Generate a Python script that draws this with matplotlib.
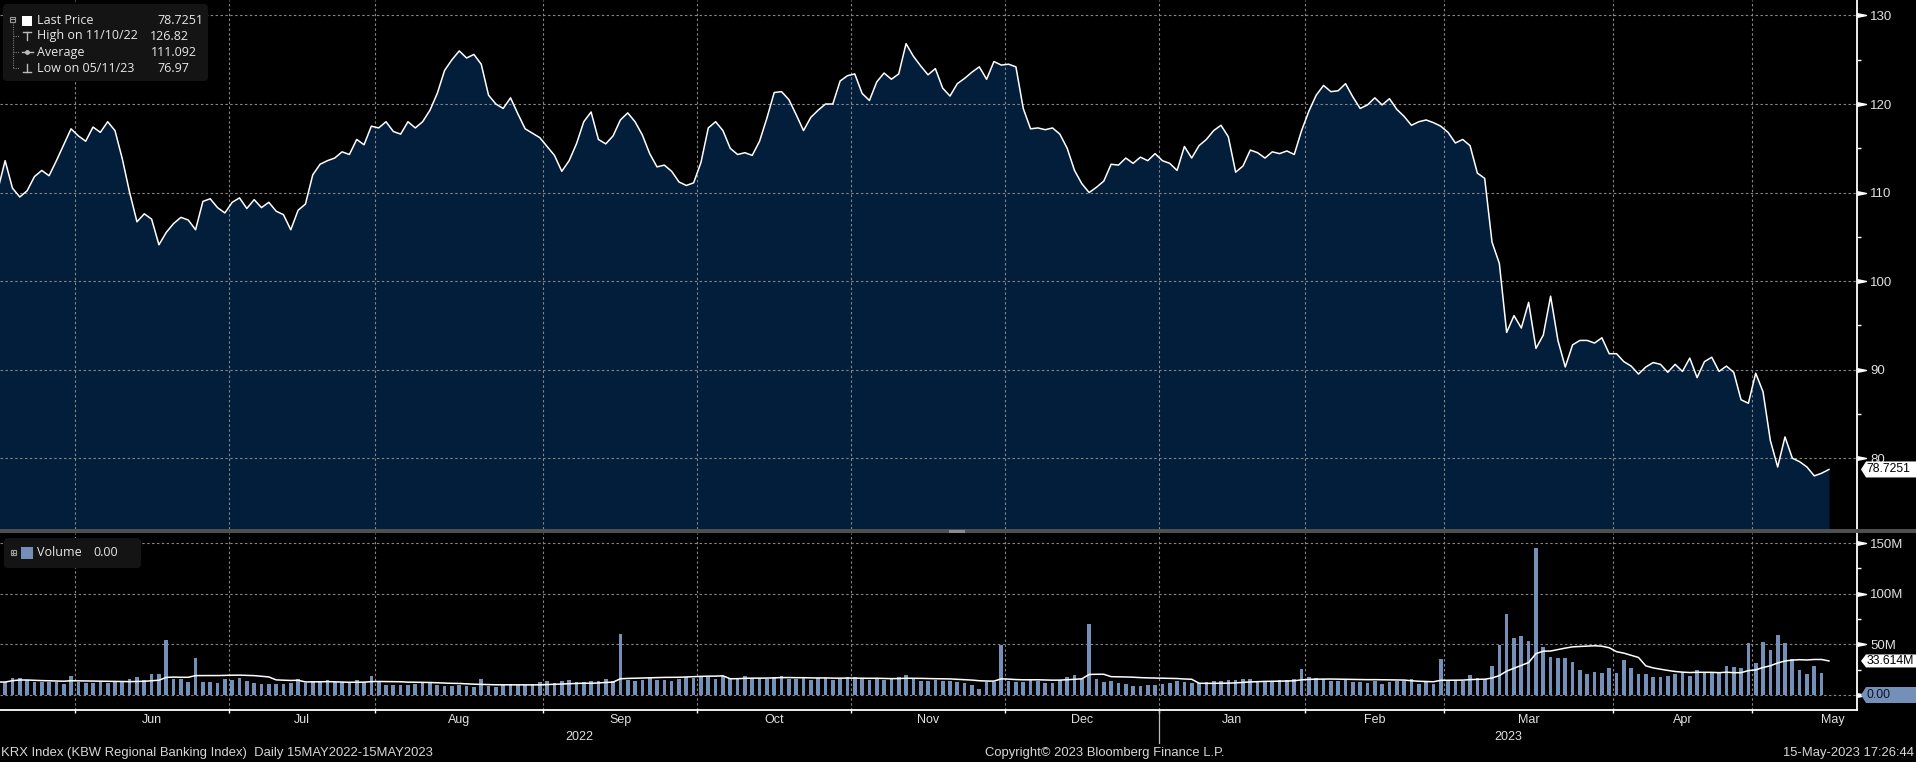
import numpy as np
import pandas as pd
import matplotlib
matplotlib.use('Agg')
import matplotlib.pyplot as plt
from matplotlib.patches import Rectangle, FancyBboxPatch, Polygon
from matplotlib.transforms import blended_transform_factory as blend

W, H = 1916, 762

# trading calendar (NYSE holidays in the window)
holidays = ['2022-05-30', '2022-06-20', '2022-07-04', '2022-09-05', '2022-11-24',
            '2022-12-26', '2023-01-02', '2023-01-16', '2023-02-20', '2023-04-07',
            '2023-05-29']
dates = pd.bdate_range('2022-05-16', '2023-05-15')
dates = dates[~dates.isin(pd.to_datetime(holidays))]

# KRX last price, one value per trading day
price = [
    # May 22
    110.3, 113.6, 110.5, 109.5, 110.2, 111.8, 112.5, 111.9, 113.6, 115.4, 117.2,
    # Jun
    116.4, 115.8, 117.4, 116.8, 118.0, 117.0, 113.8, 110.0, 106.7, 107.6, 107.0,
    104.1, 105.5, 106.5, 107.2, 106.9, 105.8, 109.0, 109.3, 108.3, 107.7,
    # Jul
    108.9, 109.4, 108.2, 109.2, 108.3, 108.9, 107.9, 107.5, 105.8, 108.0,
    108.7, 112.0, 113.2, 113.6, 113.9, 114.6, 114.3, 116.0, 115.4, 117.5,
    # Aug
    117.3, 118.0, 116.9, 116.6, 118.0, 117.3, 118.0, 119.3, 121.2, 123.8, 125.0,
    126.0, 125.2, 125.6, 124.5, 121.0, 120.0, 119.5, 120.7, 118.9, 117.2, 116.7, 116.2,
    # Sep
    115.2, 114.2, 112.4, 113.6, 115.5, 118.0, 119.1, 116.0, 115.5, 116.4, 118.2,
    119.0, 118.0, 116.5, 114.4, 112.9, 113.1, 112.4, 111.2, 110.8, 111.1,
    # Oct
    113.4, 117.3, 118.0, 117.0, 115.0, 114.3, 114.5, 114.2, 115.8, 118.4, 121.3,
    121.4, 120.5, 118.8, 117.0, 118.5, 119.3, 120.0, 120.0, 122.6, 123.2,
    # Nov
    123.4, 121.2, 120.4, 122.5, 123.5, 122.8, 123.4, 126.82, 125.4, 124.3, 123.3,
    124.0, 121.8, 120.9, 122.3, 122.9, 123.6, 124.2, 122.8, 124.8, 124.4,
    # Dec
    124.5, 124.2, 119.5, 117.2, 117.3, 117.1, 117.3, 116.6, 115.0, 112.5, 111.0,
    110.0, 110.6, 111.3, 113.2, 113.1, 113.9, 113.3, 114.0, 113.6, 114.4,
    # Jan 23
    113.6, 113.3, 112.5, 115.2, 113.9, 115.3, 116.0, 117.0, 117.6, 116.3,
    112.3, 113.0, 114.8, 114.5, 113.9, 114.6, 114.4, 114.7, 114.3, 117.0,
    # Feb
    119.2, 121.0, 122.1, 121.4, 121.5, 122.3, 120.8, 119.5, 119.9, 120.7,
    119.9, 120.6, 119.4, 118.6, 117.6, 118.0, 118.2, 117.9, 117.5,
    # Mar
    116.8, 115.6, 116.0, 115.3, 112.2, 111.6, 104.4, 102.0, 94.2, 96.1, 94.7,
    97.6, 92.4, 93.9, 98.3, 93.3, 90.3, 92.8, 93.3, 93.3, 93.0, 93.6, 91.8,
    # Apr
    91.8, 90.9, 90.4, 89.5, 90.3, 90.8, 90.6, 89.7, 90.6, 89.8,
    91.3, 89.1, 90.9, 91.4, 89.8, 90.4, 89.7, 86.6, 86.2,
    # May 23
    89.6, 87.5, 82.0, 79.0, 82.4, 80.0, 79.6, 79.0, 78.0, 78.3, 78.7251,
]

# daily volume, millions
volume = [
    # May 22
    12.8, 12.8, 16.8, 16.8, 14.8, 12.8, 12.8, 12.8, 12.8, 10.9, 18.8,
    # Jun
    12.8, 11.8, 11.8, 12.8, 11.8, 12.8, 12.8, 15.8, 17.8, 14.8, 20.7,
    20.7, 54.3, 15.8, 15.8, 12.8, 36.5, 12.8, 12.8, 11.8, 15.8,
    # Jul
    14.8, 16.8, 13.8, 11.8, 10.9, 10.9, 10.9, 10.9, 11.8, 15.8,
    11.8, 13.8, 13.8, 14.8, 12.8, 12.8, 11.8, 14.8, 12.8, 18.8,
    # Aug
    12.8, 9.9, 9.9, 9.9, 9.9, 10.9, 11.8, 11.8, 9.9, 8.9, 8.9, 9.9,
    8.9, 7.9, 15.8, 8.9, 7.9, 9.5, 10.5, 9.8, 10.2, 11.0, 12.5,
    # Sep
    14.0, 11.5, 13.5, 14.5, 13.0, 12.5, 13.8, 14.2, 15.5, 14.0, 60.5,
    14.8, 13.5, 15.0, 16.5, 14.5, 15.0, 13.8, 16.0, 17.5, 16.8,
    # Oct
    18.0, 17.5, 16.2, 18.5, 17.0, 16.0, 18.8, 17.2, 16.5, 15.8, 17.8,
    18.5, 16.2, 15.5, 17.0, 14.8, 16.5, 17.0, 15.2, 16.0, 18.2,
    # Nov
    17.5, 16.0, 15.2, 16.8, 14.5, 15.8, 18.0, 19.5, 16.2, 14.0, 13.5,
    15.0, 14.2, 13.8, 12.5, 12.0, 10.0, 5.5, 12.5, 13.0, 49.5,
    # Dec
    14.0, 13.0, 12.5, 14.5, 13.5, 12.0, 11.5, 14.5, 18.0, 19.5, 16.0,
    70.0, 15.5, 13.0, 14.0, 12.0, 10.5, 9.0, 8.5, 9.5, 10.0,
    # Jan 23
    11.0, 12.0, 13.5, 12.5, 12.0, 11.5, 13.0, 14.0, 13.5, 15.0,
    14.5, 16.0, 15.5, 14.0, 13.5, 12.5, 15.0, 14.5, 16.0, 26.0,
    # Feb
    18.0, 16.5, 15.5, 14.0, 13.5, 14.5, 13.0, 12.5, 12.0, 14.0,
    10.9, 12.8, 14.1, 14.1, 15.5, 10.9, 13.5, 10.9, 35.5,
    # Mar
    14.8, 14.8, 14.1, 19.7, 16.4, 15.5, 28.6, 49.3, 80.0, 56.3, 58.2, 53.3,
    145.1, 47.4, 37.5, 36.5, 36.5, 32.6, 24.7, 20.7, 22.7, 21.7, 26.6,
    # Apr
    21.7, 34.5, 26.6, 20.7, 20.7, 17.8, 17.8, 18.8, 20.7, 22.7,
    18.8, 24.7, 21.7, 21.7, 21.7, 28.6, 27.6, 26.6, 51.3,
    # May 23
    31.6, 52.3, 44.4, 59.2, 51.3, 35.5, 24.5, 20.6, 29.1, 21.61, 0.0,
]

price_ticks = [80, 90, 100, 110, 120, 130]
vol_ticks = [0, 50, 100, 150]
vol_labels = ['', '50M', '100M', '150M']

legend_rows = [('Last Price', '78.7251'), ('High on 11/10/22', '126.82'),
               ('Average', '111.092'), ('Low on 05/11/23', '76.97')]

AXF = ['Liberation Sans', 'DejaVu Sans']
LGF = ['Open Sans', 'DejaVu Sans']
BLUE = '#7590b8'
NAVY = '#021e3b'
GRID = '#858585'
TXT = '#e0e0e0'

x = np.arange(len(price))
vol_ma = pd.Series(volume).rolling(15, min_periods=1).mean()

# month boundaries / label centres in trading-day units
mon = dates.to_period('M')
starts = np.flatnonzero(np.r_[True, mon[1:] != mon[:-1]])
bounds = starts[1:] - 0.5
centers, names = [], []
for s in starts[1:]:
    p = mon[s]
    full = pd.bdate_range(p.start_time, p.end_time)
    full = full[~full.isin(pd.to_datetime(holidays))]
    centers.append(s - 0.5 + len(full) / 2)
    names.append(p.strftime('%b'))
year_bound = bounds[[mon[s].month == 1 for s in starts[1:]]][0]

xlim = (0.30, 253.83)
plim = (72.0, 131.75)
vlim = (-14.8, 159.9)

fig = plt.figure(figsize=(W / 100, H / 100), dpi=100, facecolor='black')


def px_rect(x0, y0, x1, y1):
    return [x0 / W, 1 - y1 / H, (x1 - x0) / W, (y1 - y0) / H]


axp = fig.add_axes(px_rect(0, 0, 1857, 529))
axv = fig.add_axes(px_rect(0, 533, 1857, 710))

tri = [(0, -0.2), (1, 0), (0, 0.2)]
for ax, ticks in ((axp, price_ticks), (axv, vol_ticks)):
    ax.set_facecolor('black')
    for s in ('left', 'top', 'bottom'):
        ax.spines[s].set_visible(False)
    ax.spines['right'].set_color('white')
    ax.spines['right'].set_linewidth(1.3)
    ax.set_xlim(*xlim)
    ax.set_xticks(bounds)
    ax.yaxis.tick_right()
    ax.set_yticks(ticks)
    ax.grid(True, which='major', color=GRID, linestyle=(0, (2.2, 2.2)), linewidth=0.8)
    ax.tick_params(axis='y', which='major', length=0, pad=9.5, labelsize=9.5,
                   labelcolor=TXT)
    ax.tick_params(axis='y', which='minor', length=3, width=1, color='white')
    for lab in ax.get_yticklabels():
        lab.set_family(AXF)
    ax.plot(np.ones(len(ticks)), ticks, ls='none', marker=tri, ms=13, color='white',
            transform=blend(ax.transAxes, ax.transData), clip_on=False, zorder=5)

# price panel
axp.set_ylim(*plim)
axp.set_yticks([85, 95, 105, 115, 125], minor=True)
axp.set_axisbelow(False)
axp.fill_between(x, price, plim[0], color=NAVY, lw=0, zorder=1)
axp.plot(x, price, color='white', lw=1.1, zorder=3)
axp.tick_params(axis='x', which='both', length=0, labelbottom=False)

# volume panel
axv.set_ylim(*vlim)
axv.set_yticklabels(vol_labels)
axv.set_yticks([25, 75, 125], minor=True)
axv.set_axisbelow(True)
axv.bar(x, volume, width=0.5, color=BLUE, zorder=3)
axv.plot(x, vol_ma, color='white', lw=1.1, zorder=4)
axv.spines['bottom'].set_visible(True)
axv.spines['bottom'].set_color('white')
axv.spines['bottom'].set_linewidth(1.3)
axv.tick_params(axis='x', which='major', length=2.5, width=1, color='white',
                labelbottom=False)
axv.set_xticks(centers, minor=True)
axv.set_xticklabels(names, minor=True)
axv.tick_params(axis='x', which='minor', length=0, pad=3, labelsize=9,
                labelcolor=TXT)
for lab in axv.get_xticklabels(minor=True):
    lab.set_family(AXF)

# year labels and divider
tv = blend(axv.transData, axv.transAxes)
axv.plot([year_bound, year_bound], [0, -0.185], color='#bbbbbb', lw=0.9,
         transform=tv, clip_on=False)
axv.text((xlim[0] + year_bound) / 2, -0.15, '2022', transform=tv, ha='center',
         va='center', fontsize=9, color=TXT, family=AXF)
axv.text((year_bound + xlim[1]) / 2, -0.15, '2023', transform=tv, ha='center',
         va='center', fontsize=9, color=TXT, family=AXF)


def tag(ax, y, text, fc, tc, ppu, h=8):
    t = blend(fig.transFigure, ax.transData)
    hh = h / ppu
    poly = Polygon([(1861 / W, y), (1866 / W, y + hh), (1916 / W, y + hh),
                    (1916 / W, y - hh), (1866 / W, y - hh)], closed=True,
                   fc=fc, ec='none', transform=t, clip_on=False, zorder=20)
    fig.add_artist(poly)
    fig.text(1866.5 / W, 0, text, transform=t, color=tc, fontsize=8.8, va='center',
             ha='left', family=AXF, zorder=21).set_y(y)


tag(axp, price[-1], f'{price[-1]:.4f}', 'white', 'black', 529 / (plim[1] - plim[0]))
tag(axv, vol_ma.iloc[-1], f'{vol_ma.iloc[-1]:.3f}M', 'white', 'black',
    177 / (vlim[1] - vlim[0]), h=6.5)
tag(axv, volume[-1], f'{volume[-1]:.2f}', BLUE, '#0b1420',
    177 / (vlim[1] - vlim[0]), h=8)

# overlay in pixel coordinates for decorations
ov = fig.add_axes([0, 0, 1, 1], zorder=10)
ov.set_xlim(0, W)
ov.set_ylim(H, 0)
ov.axis('off')
ov.patch.set_alpha(0)

# panel separator
ov.add_patch(Rectangle((0, 529), W, 4, color='#4f4f4f', lw=0))
ov.add_patch(Rectangle((949, 529.5), 16, 3, color='#8a8a8a', lw=0))

# price legend
ov.add_patch(FancyBboxPatch((3, 4), 205, 77, boxstyle='round,pad=0,rounding_size=4',
                            fc='#141414', ec='none'))
ov.add_patch(Rectangle((10.5, 16.5), 5, 5, fc='none', ec='#9a9a9a', lw=0.8))
ov.plot([11.5, 14.5], [19, 19], color='#9a9a9a', lw=0.8)
ov.plot([13, 13], [22, 68], color='#777777', lw=0.8, ls=(0, (1, 1)))
for yy in (36, 52, 68):
    ov.plot([13, 19], [yy, yy], color='#777777', lw=0.8, ls=(0, (1, 1)))
ov.add_patch(Rectangle((22, 16), 10, 10, color='white', lw=0))
ov.plot([23, 31], [32, 32], color='#bbbbbb', lw=1)
ov.plot([27, 27], [32, 40], color='#bbbbbb', lw=1)
ov.plot([22, 33], [52, 52], color='#bbbbbb', lw=1)
ov.plot([27], [52], marker='o', ms=2.5, color='#bbbbbb')
ov.plot([27, 27], [64, 72], color='#bbbbbb', lw=1)
ov.plot([23, 31], [72, 72], color='#bbbbbb', lw=1)
val_x = [157, 150, 151, 157]
for (lab, val), yy, vx in zip(legend_rows, (20.7, 36, 52.3, 68.3), val_x):
    ov.text(37.5, yy, lab, color='#e8e8e8', fontsize=9, va='center', family=LGF)
    ov.text(vx, yy, val, color='#e8e8e8', fontsize=9, va='center', family=LGF)

# volume legend
ov.add_patch(FancyBboxPatch((4, 538), 137, 30, boxstyle='round,pad=0,rounding_size=4',
                            fc='#141414', ec='none'))
ov.add_patch(Rectangle((11, 550), 5, 5, fc='none', ec='#9a9a9a', lw=0.8))
ov.plot([12, 15], [552.5, 552.5], color='#9a9a9a', lw=0.8)
ov.plot([13.5, 13.5], [551, 554], color='#9a9a9a', lw=0.8)
ov.add_patch(Rectangle((21, 547), 12, 12, color=BLUE, lw=0))
ov.text(37, 553, 'Volume', color='#e8e8e8', fontsize=9, va='center', family=LGF)
ov.text(93, 553, f'{volume[-1]:.2f}', color='#e8e8e8', fontsize=9, va='center',
        family=LGF)

# footer
ov.text(1, 753, 'KRX Index (KBW Regional Banking Index)  Daily 15MAY2022-15MAY2023',
        color='#d8d8d8', fontsize=9.4, va='center', family=AXF)
ov.text(1105, 753, 'Copyright\u00a9 2023 Bloomberg Finance L.P.', color='#d8d8d8',
        fontsize=9.4, va='center', ha='center', family=AXF)
ov.text(1914, 753, '15-May-2023 17:26:44', color='#d8d8d8', fontsize=9.4,
        va='center', ha='right', family=AXF)

fig.savefig('out.png', dpi=100, facecolor='black')
